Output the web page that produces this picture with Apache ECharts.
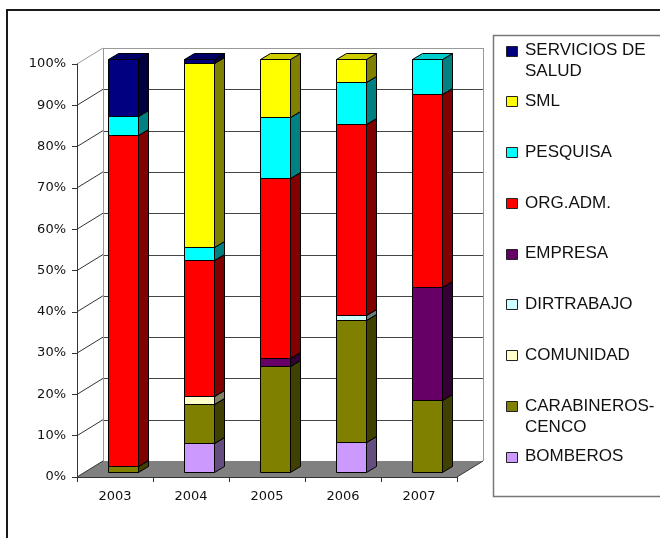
<!DOCTYPE html>
<html>
<head>
<meta charset="utf-8">
<script src="https://cdn.jsdelivr.net/npm/echarts@6/dist/echarts.min.js"></script>
<style>
html, body { margin: 0; padding: 0; background: #fff; }
#chart { width: 660px; height: 538px; }
</style>
</head>
<body>
<div id="chart"></div>
<script>
const years = ['2003', '2004', '2005', '2006', '2007'];
const yTicks = [0, 10, 20, 30, 40, 50, 60, 70, 80, 90, 100];

// percentages, bottom of the stack first
const bomberos    = [0, 7.0, 0, 7.2, 0];
const carabineros = [1.4, 9.5, 25.6, 29.6, 17.5];
const comunidad   = [0, 1.9, 0, 0, 0];
const dirtrabajo  = [0, 0, 0, 1.1, 0];
const empresa     = [0, 0, 1.9, 0, 27.3];
const orgAdm      = [80.1, 33.0, 43.6, 46.3, 46.7];
const pesquisa    = [4.7, 3.0, 14.8, 10.2, 8.5];
const sml         = [0, 44.6, 14.1, 5.6, 0];
const servicios   = [13.8, 1.0, 0, 0, 0];

const seriesNames  = ['BOMBEROS', 'CARABINEROS-\nCENCO', 'COMUNIDAD', 'DIRTRABAJO', 'EMPRESA', 'ORG.ADM.', 'PESQUISA', 'SML', 'SERVICIOS DE\nSALUD'];
const seriesColors = ['#CC99FF', '#808000', '#FFFFCC', '#CCFFFF', '#660066', '#FF0000', '#00FFFF', '#FFFF00', '#000080'];
const seriesValues = [bomberos, carabineros, comunidad, dirtrabajo, empresa, orgAdm, pesquisa, sml, servicios];

// fake 3d
const DX = 26, DY = 16;      // depth of the walls
const FX = 8, FY = 5;        // bar front face offset
const BDX = 10, BDY = 6;     // bar depth
const BAR_RATIO = 0.395;

function shade(hex, k) {
  let n = parseInt(hex.slice(1), 16);
  let r = Math.round(((n >> 16) & 255) * k);
  let g = Math.round(((n >> 8) & 255) * k);
  let b = Math.round((n & 255) * k);
  return 'rgb(' + r + ',' + g + ',' + b + ')';
}

function renderWalls(params, api) {
  let v = api.value(1);
  let cs = params.coordSys;
  let left = cs.x, right = cs.x + cs.width;
  let y = api.coord([0, v])[1];
  let y0 = api.coord([0, 0])[1];
  let children = [];
  if (v === 0) {
    children.push({type: 'polygon', shape: {points: [[left, y0], [left + DX, y0 - DY], [right + DX, y0 - DY], [right, y0]]}, style: {fill: '#808080'}});
    children.push({type: 'line', shape: {x1: right, y1: y0, x2: right + DX, y2: y0 - DY}, style: {stroke: '#333', lineWidth: 1}});
  }
  children.push({type: 'line', shape: {x1: left, y1: y, x2: left + DX, y2: y - DY}, style: {stroke: v === 100 ? '#999' : '#333', lineWidth: 1}});
  if (v > 0) {
    children.push({type: 'line', shape: {x1: left + DX, y1: Math.round(y - DY) + 0.5, x2: right + DX, y2: Math.round(y - DY) + 0.5}, style: {stroke: v === 100 ? '#999' : '#444', lineWidth: 1}});
  }
  if (v === 100) {
    children.push({type: 'line', shape: {x1: left + DX + 0.5, y1: y0 - DY, x2: left + DX + 0.5, y2: y - DY}, style: {stroke: '#999', lineWidth: 1}});
    children.push({type: 'line', shape: {x1: right + DX + 0.5, y1: y0 - DY, x2: right + DX + 0.5, y2: y - DY}, style: {stroke: '#999', lineWidth: 1}});
  }
  return {type: 'group', children: children};
}

function barRenderer(color) {
  let side = shade(color, 0.5), top = shade(color, 0.8);
  return function (params, api) {
    let cat = api.value(0), lo = api.value(1), hi = api.value(2);
    if (hi - lo <= 0) return null;
    let pLo = api.coord([cat, lo]);
    let pHi = api.coord([cat, hi]);
    let w = Math.round(api.size([1, 0])[0] * BAR_RATIO);
    let x0 = Math.round(pLo[0] - w / 2 + FX) + 0.5, x1 = x0 + w;
    let yb = Math.round(pLo[1] - FY) + 0.5, yt = Math.round(pHi[1] - FY) + 0.5;
    return {
      type: 'group',
      children: [
        {type: 'polygon', shape: {points: [[x1, yb], [x1 + BDX, yb - BDY], [x1 + BDX, yt - BDY], [x1, yt]]}, style: {fill: side, stroke: '#000', lineWidth: 1}},
        {type: 'polygon', shape: {points: [[x0, yt], [x1, yt], [x1 + BDX, yt - BDY], [x0 + BDX, yt - BDY]]}, style: {fill: top, stroke: '#000', lineWidth: 1}},
        {type: 'rect', shape: {x: x0, y: yt, width: w, height: yb - yt}, style: {fill: color, stroke: '#000', lineWidth: 1}}
      ]
    };
  };
}

let series = [{
  type: 'custom',
  name: 'walls',
  z: 1,
  silent: true,
  renderItem: renderWalls,
  encode: {x: 0, y: 1},
  data: yTicks.map(v => [0, v])
}];

let base = years.map(() => 0);
seriesValues.forEach(function (vals, i) {
  let data = vals.map(function (v, j) {
    let d = [j, base[j], base[j] + v];
    base[j] += v;
    return d;
  });
  series.push({
    type: 'custom',
    name: seriesNames[i].replace('\n', ' '),
    z: 3 + i,
    renderItem: barRenderer(seriesColors[i]),
    encode: {x: 0, y: [1, 2]},
    data: data
  });
});

// legend drawn by hand, top item first
let graphic = [
  {type: 'rect', shape: {x: 7, y: 10, width: 720, height: 620}, style: {fill: 'none', stroke: '#1a1a1a', lineWidth: 2}, z: 100},
  {type: 'rect', shape: {x: 493.5, y: 35.5, width: 300, height: 461}, style: {fill: '#fff', stroke: '#777', lineWidth: 1.5}, z: 100}
];
for (let k = 0; k < seriesNames.length; k++) {
  let i = seriesNames.length - 1 - k;
  let cy = 50.7 + k * 50.75;
  graphic.push({type: 'rect', shape: {x: 506.5, y: Math.round(cy - 5) + 0.5, width: 11, height: 10}, style: {fill: seriesColors[i], stroke: '#222', lineWidth: 1}, z: 101});
  graphic.push({type: 'text', x: 525, y: cy - 10.5, style: {text: seriesNames[i], font: '17px "Liberation Sans", Arial, sans-serif', lineHeight: 21, fill: '#111', verticalAlign: 'top'}, z: 101});
}

let myChart = echarts.init(document.getElementById('chart'));
myChart.setOption({
  animation: false,
  backgroundColor: '#fff',
  grid: {left: 77, top: 64, width: 380, height: 413},
  xAxis: {
    type: 'category',
    data: years,
    z: 5,
    axisLine: {lineStyle: {color: '#333', width: 1}},
    axisTick: {show: true, length: 5, lineStyle: {color: '#333'}},
    axisLabel: {margin: 13, fontFamily: 'DejaVu Sans', fontSize: 13, color: '#111'},
    splitLine: {show: false}
  },
  yAxis: {
    type: 'value',
    min: 0,
    max: 100,
    interval: 10,
    z: 5,
    axisLine: {show: true, lineStyle: {color: '#333', width: 1}},
    axisTick: {show: true, length: 5, lineStyle: {color: '#333'}},
    axisLabel: {formatter: '{value}%', margin: 11, fontFamily: 'DejaVu Sans', fontSize: 13, color: '#111'},
    splitLine: {show: false}
  },
  graphic: graphic,
  series: series
});
</script>
</body>
</html>
